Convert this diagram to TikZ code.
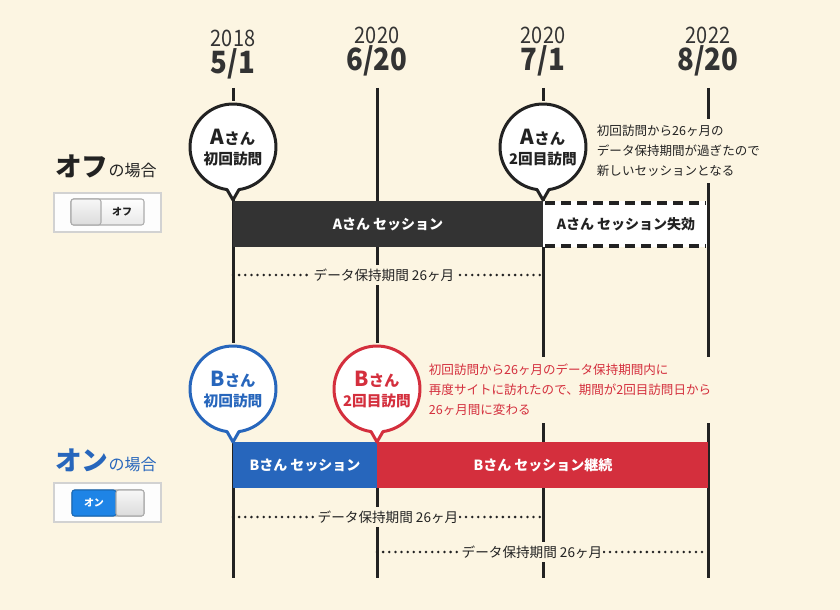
\documentclass[tikz,border=0pt]{standalone}
\usepackage{fontspec}
\usepackage{graphicx}
\setmainfont{Noto Sans CJK JP}
\usetikzlibrary{calc}
\definecolor{bg}{HTML}{FCF5E2}
\definecolor{ink}{HTML}{222222}
\definecolor{darkbar}{HTML}{333333}
\definecolor{bblue}{HTML}{2766BC}
\definecolor{bred}{HTML}{D42F3D}
\definecolor{swblue}{HTML}{1E84E6}
\newcommand\mkballoon[3]{%
  \coordinate (#1) at (#2);
  \fill[bg] (#1) circle[radius=46];
  \draw[line width=2.25pt, draw=#3, fill=white, line join=round]
    ($(#1)+(98:43)$) arc[start angle=98, end angle=442, radius=43]
    -- ($(#1)+(0,53)$) -- cycle;
}
\tikzset{
  vline/.style={draw=ink, line width=2.25pt},
  dotline/.style={draw=ink, line width=2.1pt, line cap=round, dash pattern=on 0pt off 4.6pt},
  yearlbl/.style={text=darkbar, font={\fontsize{17}{17}\selectfont}, inner sep=0},
  datelbl/.style={text=darkbar, font={\fontsize{23}{23}\selectfont\bfseries}, inner sep=0},
  bartext/.style={font={\fontsize{10.5}{12}\selectfont\bfseries}, inner sep=0},
  periodlbl/.style={fill=bg, text=ink, font={\fontsize{10.2}{12}\selectfont}, inner sep=2.5},
  notetext/.style={fill=bg, anchor=west, align=left, font={\fontsize{9.4}{15}\selectfont}, inner xsep=2, inner ysep=5},
  balloonA/.style={font={\fontsize{15.5}{15}\selectfont\bfseries}, inner sep=0},
  balloonB/.style={font={\fontsize{11}{11}\selectfont\bfseries}, inner sep=0},
}
\begin{document}
\begin{tikzpicture}[x=0.75pt,y=-0.75pt]
\fill[bg] (0,0) rectangle (840,610);
\useasboundingbox (0,0) rectangle (840,610);

% date headers
\node[yearlbl] (y1) at (233,38) {\scalebox{0.88}[1]{2018}};
\node[yearlbl] (y2) at (377,35) {\scalebox{0.88}[1]{2020}};
\node[yearlbl] (y3) at (543,35) {\scalebox{0.88}[1]{2020}};
\node[yearlbl] (y4) at (708,35) {\scalebox{0.88}[1]{2022}};
\node[datelbl] (d1) at (233,64) {\scalebox{0.9}[1]{5/1}};
\node[datelbl] (d2) at (377,61) {\scalebox{0.9}[1]{6/20}};
\node[datelbl] (d3) at (543,61) {\scalebox{0.9}[1]{7/1}};
\node[datelbl] (d4) at (708,61) {\scalebox{0.9}[1]{8/20}};

% vertical time lines
\coordinate (t1) at (233,88); \coordinate (b1) at (233,578);
\coordinate (t2) at (377,88); \coordinate (b2) at (377,578);
\coordinate (t3) at (543,88); \coordinate (b3) at (543,578);
\coordinate (t4) at (708,88); \coordinate (b4) at (708,578);
\draw[vline] (t1) -- (b1);
\draw[vline] (t2) -- (b2);
\draw[vline] (t3) -- (b3);
\draw[vline] (t4) -- (b4);

% dotted retention lines
\coordinate (p1s) at (233,275); \coordinate (p1e) at (543,275);
\coordinate (p2s) at (233,517); \coordinate (p2e) at (543,517);
\coordinate (p3s) at (377,552); \coordinate (p3e) at (708,552);
\draw[dotline] (p1s) -- (p1e);
\draw[dotline] (p2s) -- (p2e);
\draw[dotline] (p3s) -- (p3e);
\node[periodlbl] (per1) at (384,275) {データ保持期間 26ヶ月};
\node[periodlbl, inner xsep=0.5] (per2) at (388,517) {データ保持期間 26ヶ月};
\node[periodlbl, inner xsep=0.5] (per3) at (532,552) {データ保持期間 26ヶ月};

% A row bars
\fill[darkbar] (233,201) rectangle (543,247);
\fill[white] (543,201) rectangle (708,247);
\draw[draw=ink, line width=3pt, dash pattern=on 7.5pt off 4.5pt] (545,203) -- (706,203);
\draw[draw=ink, line width=3pt, dash pattern=on 7.5pt off 4.5pt] (545,245.5) -- (706,245.5);
\coordinate (rb1) at (708,201); \coordinate (rb2) at (708,247);
\draw[vline] (rb1) -- (rb2);
\node[bartext, text=white] (asess) at (388,224) {Aさん セッション};
\node[bartext, text=ink] (aexp) at (626,224) {Aさん セッション失効};

% B row bars
\fill[bblue] (233,442) rectangle (377,488);
\fill[bred] (377,442) rectangle (708,488);
\node[bartext, text=white] (bsess) at (305,465) {Bさん セッション};
\node[bartext, text=white] (bcont) at (543,465) {Bさん セッション継続};

% balloons
\mkballoon{a1}{233,147}{ink}
\node[balloonA, text=ink] (a1l1) at ($(a1)+(0,-10)$) {A{\fontsize{11.5}{11}\selectfont さん}};
\node[balloonB, text=ink] (a1l2) at ($(a1)+(0,12)$) {初回訪問};
\mkballoon{a2}{543,147}{ink}
\node[balloonA, text=ink] (a2l1) at ($(a2)+(0,-10)$) {A{\fontsize{11.5}{11}\selectfont さん}};
\node[balloonB, text=ink] (a2l2) at ($(a2)+(0,12)$) {2回目訪問};
\mkballoon{b1}{233,389}{bblue}
\node[balloonA, text=bblue] (b1l1) at ($(b1)+(0,-10)$) {B{\fontsize{11.5}{11}\selectfont さん}};
\node[balloonB, text=bblue] (b1l2) at ($(b1)+(0,12)$) {初回訪問};
\mkballoon{b2}{377,389}{bred}
\node[balloonA, text=bred] (b2l1) at ($(b2)+(0,-10)$) {B{\fontsize{11.5}{11}\selectfont さん}};
\node[balloonB, text=bred] (b2l2) at ($(b2)+(0,12)$) {2回目訪問};

% notes
\node[notetext, text=ink] (anote) at (594,151) {初回訪問から26ヶ月の\\データ保持期間が過ぎたので\\新しいセッションとなる};
\node[notetext, text=bred] (bnote) at (426,390) {初回訪問から26ヶ月のデータ保持期間内に\\再度サイトに訪れたので、期間が2回目訪問日から\\26ヶ月間に変わる};

% left headings
\node[anchor=west, text=ink, inner sep=0] (offh) at (55,166) {{\fontsize{20}{20}\selectfont\bfseries オフ}{\fontsize{12}{12}\selectfont の場合}};
\node[anchor=west, text=bblue, inner sep=0] (onh) at (55,460) {{\fontsize{20}{20}\selectfont\bfseries オン}{\fontsize{12}{12}\selectfont の場合}};

% OFF switch
\draw[fill=white!60!gray!4, draw=gray!35, line width=1pt] (54,193) rectangle (161,232);
\draw[rounded corners=2, draw=gray!65, line width=0.8pt, top color=white, bottom color=gray!18] (71,199) rectangle (144,225);
\draw[rounded corners=2, draw=gray!65, line width=0.8pt, top color=gray!6, bottom color=gray!28] (71,199) rectangle (101,225);
\node[text=ink, font={\fontsize{7.5}{8}\selectfont\bfseries}, inner sep=0] (offlbl) at (122,212) {オフ};

% ON switch
\draw[fill=white!60!gray!4, draw=gray!35, line width=1pt] (54,483) rectangle (161,522);
\draw[rounded corners=2, draw=gray!65, line width=0.8pt, top color=white, bottom color=gray!18] (72,490) rectangle (144,516);
\draw[rounded corners=2, draw=swblue!80!black, line width=0.8pt, fill=swblue] (72,490) rectangle (116,516);
\draw[rounded corners=2, draw=gray!65, line width=0.8pt, top color=gray!6, bottom color=gray!28] (116,490) rectangle (144,516);
\node[text=white, font={\fontsize{7.5}{8}\selectfont\bfseries}, inner sep=0] (onlbl) at (94,503) {オン};
\end{tikzpicture}
\end{document}
